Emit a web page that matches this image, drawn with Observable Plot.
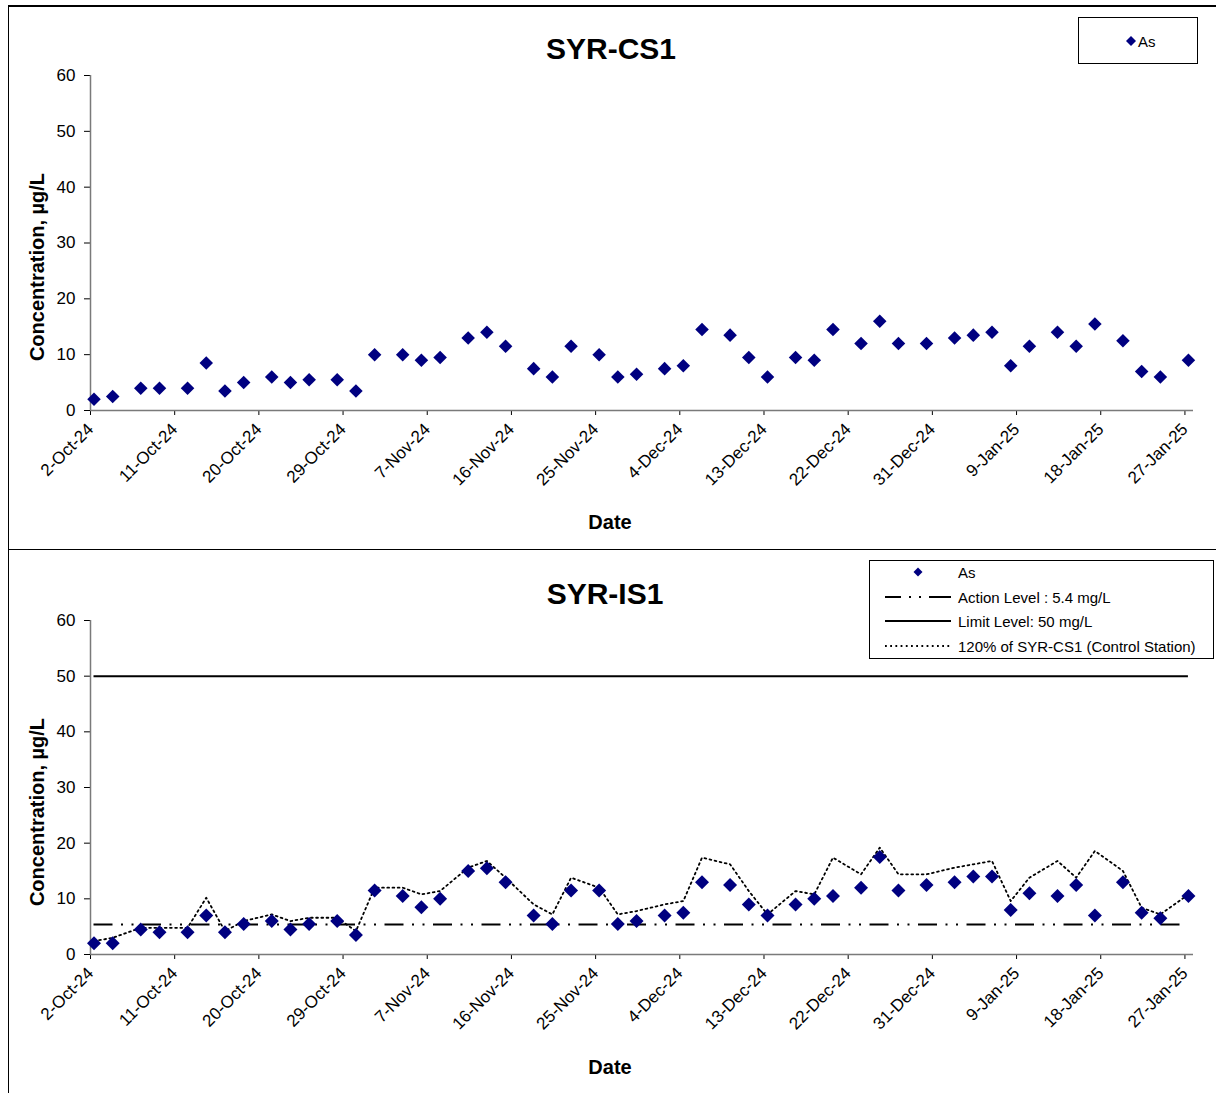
<!DOCTYPE html>
<html>
<head>
<meta charset="utf-8">
<script src="https://cdn.jsdelivr.net/npm/d3@7"></script>
<script src="https://cdn.jsdelivr.net/npm/@observablehq/plot@0.6"></script>
<style>
  body { margin: 0; background: #fff; font-family: "Liberation Sans", Arial, sans-serif; }
  #root { position: relative; width: 1216px; height: 1093px; overflow: hidden; background: #fff; }
  .abs { position: absolute; }
  .title { font-weight: bold; font-size: 30px; white-space: nowrap; transform: translateX(-50%); line-height: 1; }
  .xlab { font-weight: bold; font-size: 20px; white-space: nowrap; transform: translateX(-50%); line-height: 1; }
  .ylab { font-weight: bold; font-size: 20px; white-space: nowrap; line-height: 1; transform: translate(-50%, -50%) rotate(-90deg); }
  .legend { border: 1px solid #000; background: #fff; box-sizing: border-box; font-size: 15px; }
  .legend svg { display: block; }
</style>
</head>
<body>
<div id="root"></div>
<script>
// ---------------- data ----------------
const sampleDates = [
  "2024-10-02","2024-10-04","2024-10-07","2024-10-09","2024-10-12","2024-10-14","2024-10-16","2024-10-18","2024-10-21","2024-10-23","2024-10-25","2024-10-28","2024-10-30",
  "2024-11-01","2024-11-04","2024-11-06","2024-11-08","2024-11-11","2024-11-13","2024-11-15","2024-11-18","2024-11-20","2024-11-22","2024-11-25","2024-11-27","2024-11-29",
  "2024-12-02","2024-12-04","2024-12-06","2024-12-09","2024-12-11","2024-12-13","2024-12-16","2024-12-18","2024-12-20","2024-12-23","2024-12-25","2024-12-27","2024-12-30",
  "2025-01-02","2025-01-04","2025-01-06","2025-01-08","2025-01-10","2025-01-13","2025-01-15","2025-01-17","2025-01-20","2025-01-22","2025-01-24","2025-01-27"
];
const sampleTime = "09:00";   // approximate sampling time of day

const csAs = [
  2.0, 2.5, 4, 4, 4, 8.5, 3.5, 5, 6, 5, 5.5, 5.5, 3.5,
  10, 10, 9, 9.5, 13, 14, 11.5, 7.5, 6, 11.5, 10, 6, 6.5,
  7.5, 8, 14.5, 13.5, 9.5, 6, 9.5, 9, 14.5, 12, 16, 12, 12,
  13, 13.5, 14, 8, 11.5, 14, 11.5, 15.5, 12.5, 7, 6, 9
];
const isAs = [
  2, 2, 4.5, 4, 4, 7, 4, 5.5, 6, 4.5, 5.5, 6, 3.5,
  11.5, 10.5, 8.5, 10, 15, 15.5, 13, 7, 5.5, 11.5, 11.5, 5.5, 6,
  7, 7.5, 13, 12.5, 9, 7, 9, 10, 10.5, 12, 17.5, 11.5, 12.5,
  13, 14, 14, 8, 11, 10.5, 12.5, 7, 13, 7.5, 6.5, 10.5
];
const actionLevel = 5.4;   // mg/L
const limitLevel = 50;     // mg/L
const controlFactor = 1.2; // 120% of SYR-CS1

const xTicks = ["2024-10-02","2024-10-11","2024-10-20","2024-10-29","2024-11-07","2024-11-16","2024-11-25",
                "2024-12-04","2024-12-13","2024-12-22","2024-12-31","2025-01-09","2025-01-18","2025-01-27"];
const yTicks = [0, 10, 20, 30, 40, 50, 60];
const xDomainStrings = ["2024-10-02T00:00", "2025-01-27T22:00"];

const legendTop = ["As"];
const legendBottom = ["As", "Action Level : 5.4 mg/L", "Limit Level: 50 mg/L", "120% of SYR-CS1 (Control Station)"];

// ---------------- build ----------------
const parseT = d3.utcParse("%Y-%m-%dT%H:%M");
const parseD = d3.utcParse("%Y-%m-%d");
const dates = sampleDates.map(d => parseT(d + "T" + sampleTime));
const csRows = dates.map((date, i) => ({date, value: csAs[i]}));
const isRows = dates.map((date, i) => ({date, value: isAs[i]}));
const ctrlRows = dates.map((date, i) => ({date, value: csAs[i] * controlFactor}));
const tickDates = xTicks.map(parseD);
const xDomain = xDomainStrings.map(parseT);
const fmt = d3.utcFormat("%-d-%b-%y");

const FONT = '"Liberation Sans", Arial, sans-serif';
const NAVY = "#000080";
const AXIS = "#7a7a7a";

function basePlot(height, marginTop, extraMarks) {
  return Plot.plot({
    width: 1216,
    height,
    marginLeft: 90,
    marginRight: 23,
    marginTop,
    marginBottom: 139,
    style: {fontFamily: FONT, fontSize: "17px", color: "#000", background: "transparent", overflow: "visible"},
    x: {type: "utc", domain: xDomain, ticks: tickDates, tickFormat: fmt, tickRotate: -45, tickSize: 5, tickPadding: 11, label: null},
    y: {domain: [0, 60], ticks: yTicks, tickSize: 6, tickPadding: 9, label: null},
    marks: [
      Plot.ruleY([0], {stroke: AXIS, strokeWidth: 1.5}),
      Plot.ruleX([xDomain[0]], {stroke: AXIS, strokeWidth: 1.5}),
      ...extraMarks
    ]
  });
}

const root = document.getElementById("root");
function addDiv(cls, style, html) {
  const d = document.createElement("div");
  d.className = cls;
  Object.assign(d.style, style);
  if (html != null) d.innerHTML = html;
  root.appendChild(d);
  return d;
}

// top panel
const topPlot = basePlot(549, 75, [
  Plot.dot(csRows, {x: "date", y: "value", symbol: "diamond2", r: 6.1, fill: NAVY, stroke: "none"})
]);
const topWrap = addDiv("abs", {left: "0px", top: "0px"});
topWrap.appendChild(topPlot);

// bottom panel
const actionDash = "19,8.5,2,8.5,2,8.5";
const ctrlDash = "1.8,3.4";
const botPlot = basePlot(544, 71, [
  Plot.ruleY([limitLevel], {x1: dates[0], x2: dates[dates.length - 1], stroke: "#000", strokeWidth: 2}),
  Plot.ruleY([actionLevel], {x1: dates[0], x2: dates[dates.length - 1], stroke: "#000", strokeWidth: 2, strokeDasharray: actionDash}),
  Plot.line(ctrlRows, {x: "date", y: "value", stroke: "#000", strokeWidth: 1.8, strokeDasharray: ctrlDash}),
  Plot.dot(isRows, {x: "date", y: "value", symbol: "diamond2", r: 6.3, fill: NAVY, stroke: "none"})
]);
const botWrap = addDiv("abs", {left: "0px", top: "549px"});
botWrap.appendChild(botPlot);

// frame lines
addDiv("abs", {left: "8px", top: "5px", width: "1210px", height: "2px", background: "#000"});
addDiv("abs", {left: "8px", top: "5px", width: "1px", height: "1090px", background: "#000"});
addDiv("abs", {left: "8px", top: "549px", width: "1210px", height: "1px", background: "#000"});

// titles & axis labels
addDiv("abs title", {left: "611px", top: "34px"}, "SYR-CS1");
addDiv("abs title", {left: "605px", top: "579px"}, "SYR-IS1");
addDiv("abs xlab", {left: "610px", top: "512px"}, "Date");
addDiv("abs xlab", {left: "610px", top: "1057px"}, "Date");
addDiv("abs ylab", {left: "37px", top: "267px"}, "Concentration, µg/L");
addDiv("abs ylab", {left: "37px", top: "812px"}, "Concentration, µg/L");

// legends
function diamondPath(cx, cy, h) {
  return `M${cx},${cy - h}L${cx + h},${cy}L${cx},${cy + h}L${cx - h},${cy}Z`;
}
const lgTop = addDiv("abs legend", {left: "1078px", top: "17px", width: "120px", height: "47px"});
lgTop.innerHTML = `<svg width="118" height="45" style="font-family:${FONT};font-size:15px">
  <path d="${diamondPath(52, 23, 5)}" fill="${NAVY}"/>
  <text x="59" y="28.5">${legendTop[0]}</text></svg>`;

const lgBot = addDiv("abs legend", {left: "869px", top: "560px", width: "345px", height: "99px"});
const rowsY = [11, 36, 60, 85];
lgBot.innerHTML = `<svg width="343" height="97" style="font-family:${FONT};font-size:15px">
  <path d="${diamondPath(48, rowsY[0], 4.5)}" fill="${NAVY}"/>
  <line x1="15" x2="81" y1="${rowsY[1]}" y2="${rowsY[1]}" stroke="#000" stroke-width="2" stroke-dasharray="16,8,2,8,2,8,30"/>
  <line x1="15" x2="81" y1="${rowsY[2]}" y2="${rowsY[2]}" stroke="#000" stroke-width="2"/>
  <line x1="15" x2="81" y1="${rowsY[3]}" y2="${rowsY[3]}" stroke="#000" stroke-width="1.8" stroke-dasharray="${ctrlDash}"/>
  ${legendBottom.map((t, i) => `<text x="88" y="${rowsY[i] + 5.5}">${t}</text>`).join("")}
</svg>`;
</script>
</body>
</html>
